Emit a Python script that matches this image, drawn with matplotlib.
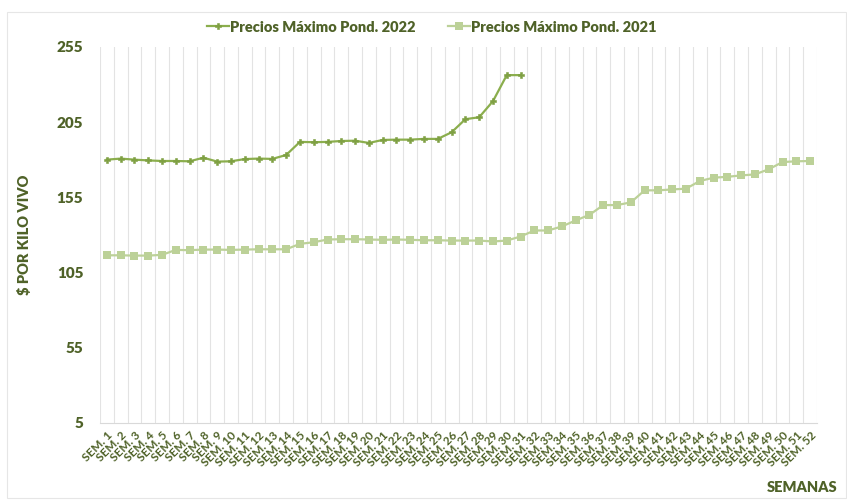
import numpy as np
import matplotlib
matplotlib.use("Agg")
import matplotlib.pyplot as plt
from matplotlib.patches import Rectangle

plt.rcParams['font.family'] = ['Lato', 'DejaVu Sans']

# Weeks
semanas = ["SEM. %d" % i for i in range(1, 53)]

# Precios Maximo Ponderado 2022 (31 weeks)
precios_2022 = [180.1, 180.8, 180.1, 179.6, 179.2, 179.2, 179.0, 181.4, 178.8, 179.0,
                180.5, 180.8, 180.6, 183.2, 191.9, 191.7, 191.9, 192.5, 192.7, 191.2,
                193.2, 193.4, 193.4, 193.9, 193.9, 198.3, 207.0, 208.3, 219.0, 236.3,
                236.3]

# Precios Maximo Ponderado 2021 (52 weeks)
precios_2021 = [116.5, 116.5, 116.3, 116.3, 116.8, 120.1, 119.9, 120.3, 120.3, 120.1,
                120.3, 120.5, 120.5, 120.5, 124.1, 125.2, 127.0, 127.2, 127.2, 127.0,
                126.8, 127.0, 126.8, 126.5, 126.5, 126.3, 126.3, 126.3, 125.7, 126.3,
                129.0, 133.0, 133.0, 135.7, 139.7, 143.4, 149.9, 149.9, 151.7, 159.7,
                159.7, 160.3, 160.8, 165.9, 168.1, 168.7, 169.6, 170.3, 173.7, 178.5,
                179.0, 179.2]

text_color = '#4F6228'
c2022 = '#8BAE4D'
c2021 = '#BCD198'

fig = plt.figure(figsize=(8.47, 5.0), dpi=100)
ax = fig.add_axes([100/847, 1 - 423/500, 717/847, 376/500])

# chart border
fig.patches.append(Rectangle((7/847, 0.005), 1 - 8/847, 1 - 12/500 - 0.005,
                             transform=fig.transFigure, fill=False,
                             edgecolor='#E6E6E6', linewidth=0.8))

x22 = np.arange(1, len(precios_2022) + 1)
x21 = np.arange(1, len(precios_2021) + 1)

ax.plot(x22, precios_2022, color=c2022, linewidth=1.6, marker='P', markersize=4.5,
        markeredgewidth=0.4, markeredgecolor='#7FA043', markerfacecolor='#7FA043',
        label='Precios Máximo Pond. 2022', zorder=3)
ax.plot(x21, precios_2021, color=c2021, linewidth=1.6, marker='s', markersize=5.5,
        markeredgewidth=0, label='Precios Máximo Pond. 2021', zorder=3)

ax.set_xlim(0.5, 52.5)
ax.set_ylim(5, 255)
ax.set_yticks(np.arange(5, 256, 50))

# vertical gridlines between categories
for b in np.arange(0.5, 53, 1):
    ax.axvline(b, color='#E3E3E3', linewidth=0.8, zorder=1)

ax.set_xticks(x21)
ax.set_xticklabels(semanas, rotation=45, ha='right', rotation_mode='anchor',
                   fontsize=8.5, fontweight='bold', color=text_color)
ax.tick_params(axis='x', length=0, pad=5)
ax.tick_params(axis='y', length=0, pad=12, labelsize=11, labelcolor=text_color)
for t in ax.get_yticklabels():
    t.set_fontweight('heavy')

for s in ['top', 'right', 'left']:
    ax.spines[s].set_visible(False)
ax.spines['bottom'].set_color('#D9D9D9')

fig.text(24/847, 1 - 235/500, '$ POR KILO VIVO', rotation=90, ha='center', va='center',
         fontsize=10.5, fontweight='heavy', color=text_color)
fig.text(837/847, 1 - 487/500, 'SEMANAS', ha='right', va='center',
         fontsize=10.5, fontweight='heavy', color=text_color)

leg = fig.legend(loc='center', bbox_to_anchor=(432/847, 1 - 27/500), ncol=2, frameon=False,
                 fontsize=10.5, handlelength=1.5, handletextpad=0.1, columnspacing=2.2)
for t in leg.get_texts():
    t.set_color(text_color)
    t.set_fontweight('heavy')

fig.savefig('out.png', dpi=100)
